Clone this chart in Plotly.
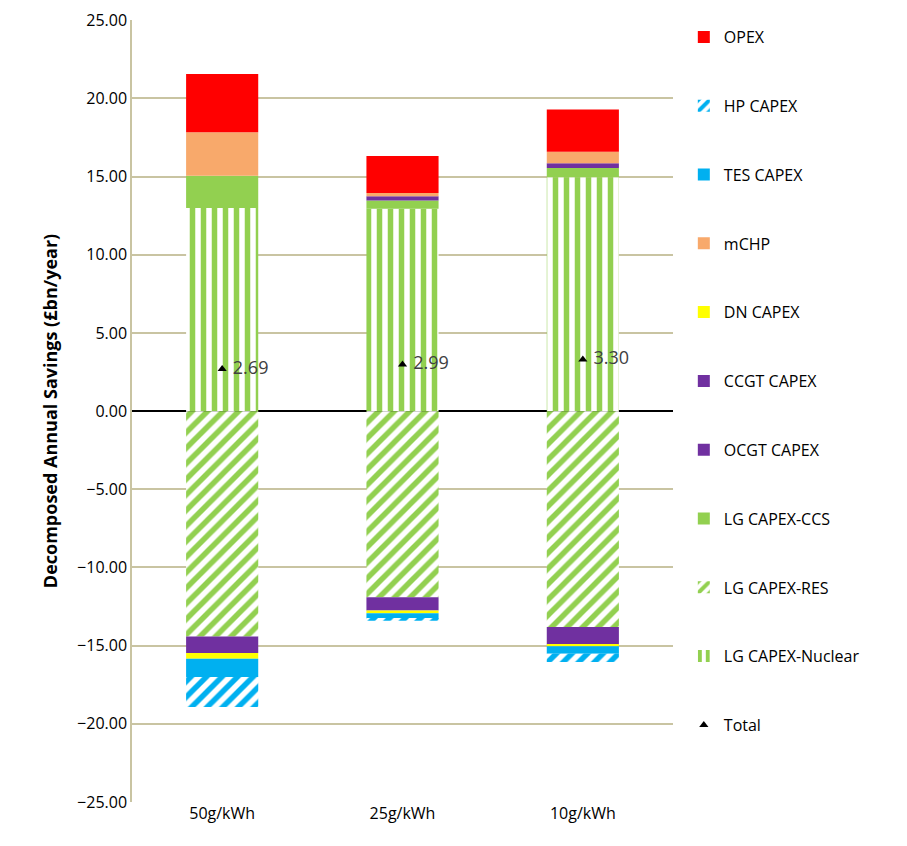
import plotly.graph_objects as go

cats = ["50g/kWh", "25g/kWh", "10g/kWh"]
opex = [3.73, 2.36, 2.69]
hp_capex = [-1.93, -0.12, -0.53]
tes_capex = [-1.16, -0.36, -0.49]
mchp = [2.78, 0.21, 0.74]
dn_capex = [-0.37, -0.17, -0.11]
ccgt_capex = [0.0, 0.28, 0.30]
ocgt_capex = [-1.06, -0.84, -1.11]
lg_ccs = [2.06, 0.53, 0.60]
lg_res = [-14.41, -11.91, -13.81]
lg_nuclear = [13.0, 12.94, 14.96]
total = [2.69, 2.99, 3.30]

fig = go.Figure()
def bar(name, vals, color, rank, shape=""):
    kw = {}
    if shape:
        kw = dict(pattern=dict(shape=shape, fgcolor=color, bgcolor="white", fillmode="replace", size=11, solidity=0.5))
    fig.add_trace(go.Bar(name=name, x=cats, y=vals, width=0.4, legendrank=rank, legendgroup=name,
                         marker=dict(color=color, line=dict(width=0), **kw)))

green = "#92d050"; blue = "#00b0f0"; purple = "#7030a0"
bar("LG CAPEX-Nuclear", lg_nuclear, green, 10, "|")
bar("LG CAPEX-RES", lg_res, green, 9, "/")
bar("LG CAPEX-CCS", lg_ccs, green, 8)
bar("OCGT CAPEX", ocgt_capex, purple, 7)
bar("CCGT CAPEX", ccgt_capex, purple, 6)
bar("DN CAPEX", dn_capex, "#ffff00", 5)
bar("mCHP", mchp, "#f8a96b", 4)
bar("TES CAPEX", tes_capex, blue, 3)
bar("OPEX", opex, "#ff0000", 1)
bar("HP CAPEX", hp_capex, blue, 2, "/")

fig.add_trace(go.Scatter(name="Total", x=cats, y=total, mode="markers+text", legendrank=11, legendgroup="Total",
                         marker=dict(symbol="triangle-up", color="black", size=8),
                         text=[" " + f"{v:.2f}" for v in total], textposition="middle right",
                         textfont=dict(size=18, color="#404040")))

fig.update_layout(
    width=907, height=846, barmode="relative", plot_bgcolor="white", paper_bgcolor="white",
    font=dict(family="Open Sans, Liberation Sans, sans-serif", size=16, color="black"),
    margin=dict(l=124, r=242, t=12, b=52, autoexpand=False),
    legend=dict(x=1.02, y=1.0, yanchor="top", tracegroupgap=45, font=dict(size=16)),
    yaxis=dict(range=[-25, 25.02], tickvals=[-25, -20, -15, -10, -5, 0, 5, 10, 15, 20, 25],
               tickformat=".2f", showgrid=True, gridcolor="#c9c4a2", gridwidth=2,
               zeroline=True, zerolinecolor="black", zerolinewidth=1.5, ticks="",
               showline=True, linecolor="#c9c4a2", linewidth=1.5,
               title=dict(text="<b>Decomposed Annual Savings (£bn/year)</b>", font=dict(size=18))),
    xaxis=dict(showline=False, ticks=""),
)
fig.write_html("out.html")
